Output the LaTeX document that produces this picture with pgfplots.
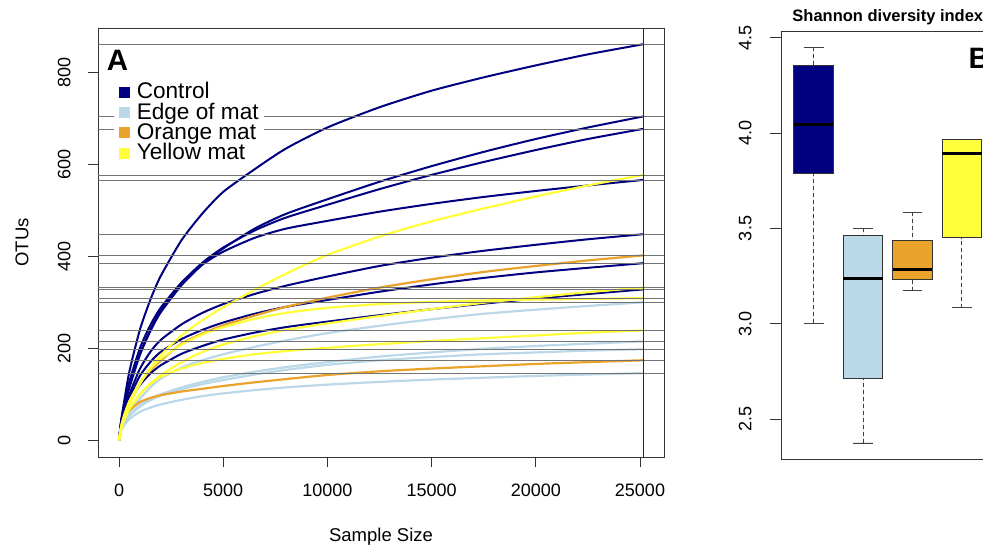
\documentclass[border=0pt]{standalone}
\usepackage{pgfplots}
\pgfplotsset{compat=1.18}
\usepackage{pgfplotstable}
\usepgfplotslibrary{statistics}
\usepackage{fontspec}
\setmainfont{Liberation Sans}
\definecolor{navyc}{RGB}{0,0,128}
\definecolor{lblue}{RGB}{187,216,232}
\definecolor{orng}{RGB}{233,162,42}
\definecolor{yel}{RGB}{255,255,58}

\pgfplotstableread{
x N1 N2 N3 N4 N5 N6 N7
0 0 0 0 0 0 0 0
100 40 38 38 42 35 33 32
250 85 72 72 80 62 60 56
500 150 115 117 128 100 93 84
1000 240 185 188 200 155 140 120
1500 305 237 240 250 192 170 145
2000 357 278 282 288 218 192 163
3000 435 337 342 343 252 220 188
4000 493 382 386 382 277 240 205
5000 540 417 419 410 296 256 219
6500 589 460 456 440 318 275 234
8000 634 492 484 460 336 290 246
10000 680 524 512 477 356 305 258
12500 724 562 546 497 379 323 272
15000 760 596 577 514 397 339 285
17500 789 627 605 529 412 353 297
20000 815 655 631 542 425 365 308
22500 839 680 655 554 437 375 318
25150 861 704 677 566 448 385 328
}\navytab

\pgfplotstableread{
x L1 L2 L3 L4
0 0 0 0 0
100 24 22 21 20
250 42 38 37 33
500 62 55 53 46
1000 90 76 73 62
1500 115 90 87 71
2000 134 100 97 78
3000 158 115 111 88
4000 174 127 122 96
5000 187 137 131 102
6500 203 149 143 109
8000 217 159 153 115
10000 233 170 164 121
12500 249 182 174 127
15000 263 191 181 132
17500 275 199 187 136
20000 284 205 191 140
22500 292 210 195 143
25150 300 215 198 146
}\lbluetab

\pgfplotstableread{
x O1 O2
0 0 0
100 28 30
250 52 48
500 85 65
1000 125 83
1500 152 92
2000 173 98
3000 210 106
4000 232 112
5000 250 118
6500 271 126
8000 290 133
10000 310 142
12500 332 150
15000 350 156
17500 366 161
20000 379 166
22500 391 170
25150 402 174
}\orngtab

\pgfplotstableread{
x Y1 Y2 Y3 Y4
0 0 0 0 0
100 25 25 30 25
250 48 45 55 45
500 78 68 85 68
1000 122 100 125 100
1500 157 123 155 122
2000 185 141 177 138
3000 228 170 208 156
4000 261 192 230 168
5000 289 208 246 177
6500 327 226 264 187
8000 362 240 277 194
10000 403 254 288 201
12500 443 270 296 209
15000 476 285 301 216
17500 504 299 304 222
20000 530 311 306 228
22500 554 322 307.5 234
25150 577 332 309 239
}\yeltab

\begin{document}
\begin{tikzpicture}
\path[use as bounding box] (0pt,0pt) rectangle (983pt,547pt);
\clip (0pt,0pt) rectangle (983pt,547pt);

\begin{axis}[
  at={(98pt,90pt)}, anchor=south west,
  scale only axis, width=566pt, height=429pt,
  xmin=-1008, xmax=26152, ymin=-36.3, ymax=896.3,
  axis line style={black!80, line width=0.8pt},
  xtick={0,5000,10000,15000,20000,25000},
  ytick={0,200,400,600,800},
  scaled x ticks=false, scaled y ticks=false,
  tick align=outside, major tick length=10pt,
  tick style={black!80, line width=0.8pt},
  xtick pos=left, ytick pos=left,
  ticklabel style={font=\fontsize{18}{20}\selectfont},
  yticklabel style={rotate=90, anchor=south},
  /pgf/number format/1000 sep={},
  /pgf/number format/assume math mode=true,
  xticklabel shift=13pt, yticklabel shift=14pt,
  every axis plot/.append style={smooth, tension=0.4},
  legend style={at={(axis description cs:0.0277,0.8811)}, anchor=north west,
    draw=none, fill=white, inner xsep=5pt, inner ysep=0pt,
    font=\fontsize{22.6}{24}\selectfont, row sep=0pt, column sep=7.5pt,
    nodes={inner sep=0pt, text height=19.5pt, text depth=0.8pt},
    cells={anchor=base west}},
]
\addplot[navyc, line width=2pt, forget plot] table[x=x, y=N1] {\navytab};
\addplot[navyc, line width=2pt, forget plot] table[x=x, y=N2] {\navytab};
\addplot[navyc, line width=2pt, forget plot] table[x=x, y=N3] {\navytab};
\addplot[navyc, line width=2pt, forget plot] table[x=x, y=N4] {\navytab};
\addplot[navyc, line width=2pt, forget plot] table[x=x, y=N5] {\navytab};
\addplot[navyc, line width=2pt, forget plot] table[x=x, y=N6] {\navytab};
\addplot[navyc, line width=2pt, forget plot] table[x=x, y=N7] {\navytab};
\addplot[lblue, line width=2.2pt, forget plot] table[x=x, y=L1] {\lbluetab};
\addplot[lblue, line width=2.2pt, forget plot] table[x=x, y=L2] {\lbluetab};
\addplot[lblue, line width=2.2pt, forget plot] table[x=x, y=L3] {\lbluetab};
\addplot[lblue, line width=2.2pt, forget plot] table[x=x, y=L4] {\lbluetab};
\addplot[orng, line width=2.2pt, forget plot] table[x=x, y=O1] {\orngtab};
\addplot[orng, line width=2.2pt, forget plot] table[x=x, y=O2] {\orngtab};
\addplot[yel, line width=2.2pt, forget plot] table[x=x, y=Y1] {\yeltab};
\addplot[yel, line width=2.2pt, forget plot] table[x=x, y=Y2] {\yeltab};
\addplot[yel, line width=2.2pt, forget plot] table[x=x, y=Y3] {\yeltab};
\addplot[yel, line width=2.2pt, forget plot] table[x=x, y=Y4] {\yeltab};

\pgfplotsinvokeforeach{861,704,677,566,448,385,328,577,332,309,239,402,174,300,215,198,146}{
  \addplot[black!55, line width=0.6pt, sharp plot, forget plot] coordinates {(-2000,#1) (27000,#1)};
}
\addplot[black!85, line width=0.9pt, sharp plot, forget plot] coordinates {(25150,-100) (25150,1000)};

\addlegendimage{legend image code/.code={\fill[navyc] (0pt,1.8pt) rectangle (10pt,11.8pt);}}
\addlegendentry{Control}
\addlegendimage{legend image code/.code={\fill[lblue] (0pt,1.8pt) rectangle (10pt,11.8pt);}}
\addlegendentry{Edge of mat}
\addlegendimage{legend image code/.code={\fill[orng] (0pt,1.8pt) rectangle (10pt,11.8pt);}}
\addlegendentry{Orange mat}
\addlegendimage{legend image code/.code={\fill[yel] (0pt,1.8pt) rectangle (10pt,11.8pt);}}
\addlegendentry{Yellow mat}
\end{axis}

\begin{axis}[
  at={(781pt,88pt)}, anchor=south west,
  scale only axis, width=213.5pt, height=427.3pt,
  xmin=0.34, xmax=4.66, ymin=2.2919, ymax=4.5314,
  axis line style={black!80, line width=0.9pt},
  xtick=\empty, ytick={2.5,3,3.5,4,4.5},
  tick align=outside, major tick length=11pt,
  tick style={black!80, line width=0.9pt},
  ytick pos=left,
  ticklabel style={font=\fontsize{18}{20}\selectfont},
  yticklabel style={rotate=90, anchor=south, /pgf/number format/.cd, fixed, fixed zerofill, precision=1},
  /pgf/number format/assume math mode=true,
  yticklabel shift=15pt,
  boxplot/draw direction=y,
  boxplot/box extend=0.8, boxplot/whisker extend=0.4,
  boxplot/draw/median/.code={\draw[line width=2.6pt, black] (boxplot box cs:\pgfplotsboxplotvalue{median},0) -- (boxplot box cs:\pgfplotsboxplotvalue{median},1);},
  boxplot/draw/lower whisker/.code={%
    \draw[black!75, line width=0.9pt, dash pattern=on 4pt off 3pt] (boxplot cs:\pgfplotsboxplotvalue{lower whisker}) -- (boxplot cs:\pgfplotsboxplotvalue{lower quartile});
    \draw[black!75, line width=0.9pt, solid] (boxplot whisker cs:\pgfplotsboxplotvalue{lower whisker},0) -- (boxplot whisker cs:\pgfplotsboxplotvalue{lower whisker},1);},
  boxplot/draw/upper whisker/.code={%
    \draw[black!75, line width=0.9pt, dash pattern=on 4pt off 3pt] (boxplot cs:\pgfplotsboxplotvalue{upper whisker}) -- (boxplot cs:\pgfplotsboxplotvalue{upper quartile});
    \draw[black!75, line width=0.9pt, solid] (boxplot whisker cs:\pgfplotsboxplotvalue{upper whisker},0) -- (boxplot whisker cs:\pgfplotsboxplotvalue{upper whisker},1);},
]
\addplot[boxplot prepared={draw position=1, median=4.044, upper quartile=4.353, lower quartile=3.791, upper whisker=4.45, lower whisker=3.003}, fill=navyc, draw=black!80, line width=0.9pt] coordinates {};
\addplot[boxplot prepared={draw position=2, median=3.239, upper quartile=3.463, lower quartile=2.715, upper whisker=3.502, lower whisker=2.376}, fill=lblue, draw=black!80, line width=0.9pt] coordinates {};
\addplot[boxplot prepared={draw position=3, median=3.286, upper quartile=3.437, lower quartile=3.231, upper whisker=3.586, lower whisker=3.175}, fill=orng, draw=black!80, line width=0.9pt] coordinates {};
\addplot[boxplot prepared={draw position=4, median=3.892, upper quartile=3.965, lower quartile=3.452, upper whisker=3.966, lower whisker=3.085}, fill=yel, draw=black!80, line width=0.9pt] coordinates {};
\end{axis}

\node[rotate=90, anchor=base, font=\fontsize{18.5}{20}\selectfont] at (28.3pt,304.5pt) {OTUs};
\node[anchor=base, font=\fontsize{18.5}{20}\selectfont] at (381pt,5.2pt) {Sample Size};
\node[anchor=base west, inner sep=0pt, font=\bfseries\fontsize{29.5}{30}\selectfont] at (106.7pt,476pt) {A};
\node[anchor=base west, inner sep=0pt, font=\bfseries\fontsize{29.5}{30}\selectfont] at (968.3pt,478.7pt) {B};
\node[anchor=base, inner sep=0pt, font=\bfseries\fontsize{16.5}{18}\selectfont] at (887.8pt,525.3pt) {Shannon diversity index};
\end{tikzpicture}
\end{document}
